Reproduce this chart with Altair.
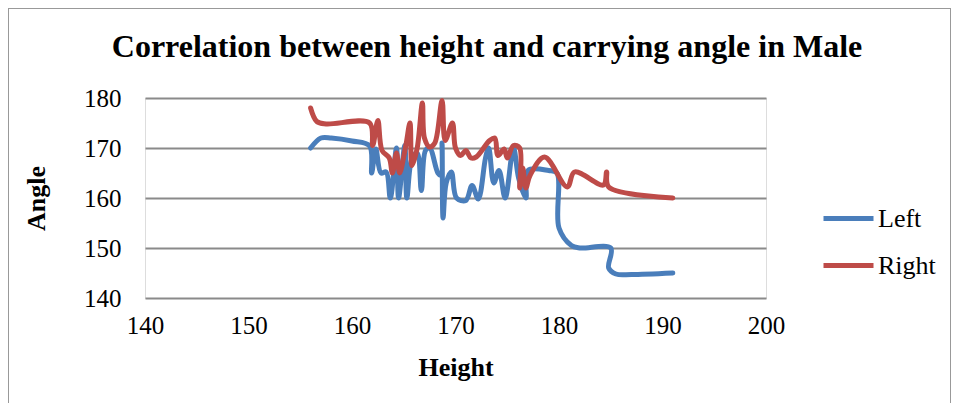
import altair as alt
import pandas as pd

# Left series (height, angle)
left_height = [156, 157, 158, 160, 161.7, 161.9, 162.3, 162.8, 163.3, 163.7, 164.3, 164.5,
               165.1, 165.3, 165.8, 166.3, 166.7, 167.1, 167.5, 168.3, 168.6, 168.7, 168.8,
               169.1, 169.6, 170.1, 171, 171.6, 172.2, 172.9, 173.2, 173.7, 174.2, 174.8,
               175.6, 176.1, 176.8, 177, 179, 179.8, 180, 181.2, 182, 185, 184.8, 185.5, 187, 191]
left_angle = [170, 172, 172, 171.4, 170.4, 165, 169.8, 165, 165.2, 160, 170, 160,
              170.5, 160, 168, 169, 161.5, 169.5, 170, 165, 164.5, 171, 156,
              163, 165.2, 160, 159.5, 162.5, 159.8, 168, 170, 163, 165.5, 160,
              170, 164, 160, 165.5, 165.5, 165, 154, 150.5, 150, 150, 146, 144.8, 144.7, 145]

# Right series (height, angle)
right_height = [156, 156.6, 157.5, 161.7, 162, 162.5, 162.9, 163.6, 163.9, 164.3, 164.6,
                165.2, 165.6, 165.8, 166.3, 166.8, 167, 167.5, 168, 168.7, 169, 169.7, 170,
                170.5, 171, 171.5, 172, 173.3, 173.8, 174.1, 174.7, 175, 175.6, 176.2, 176.2,
                176.5, 176.8, 177.2, 178.6, 180.8, 181.5, 184.3, 184.6, 184.8, 191]
right_angle = [178, 175.3, 174.8, 175, 170.5, 175.5, 169.5, 168, 165, 169, 165,
               170.5, 175, 166.5, 170, 179, 172, 170.2, 171, 179.5, 171.5, 175, 170,
               168.5, 169.5, 168, 168.2, 171.5, 172, 168.5, 169.8, 168, 170.5, 170, 162,
               166, 162, 164.5, 168.2, 162.2, 165.2, 162.6, 165.2, 162.2, 160]

x_ticks = [140, 150, 160, 170, 180, 190, 200]
y_ticks = [140, 150, 160, 170, 180]
series_names = ["Left", "Right"]
series_colors = ["#4A7EBB", "#BE4B48"]
chart_title = "Correlation between height and carrying angle in Male"

rows = []
for i, (h, a) in enumerate(zip(left_height, left_angle)):
    rows.append({"Series": "Left", "Height": h, "Angle": a, "idx": i})
for i, (h, a) in enumerate(zip(right_height, right_angle)):
    rows.append({"Series": "Right", "Height": h, "Angle": a, "idx": i})
df = pd.DataFrame(rows)

FONT = "Liberation Serif"

lines = alt.Chart(df).mark_line(
    interpolate="catmull-rom", strokeWidth=5, strokeCap="round", strokeJoin="round"
).encode(
    x=alt.X("Height:Q",
            scale=alt.Scale(domain=[140, 200], nice=False, zero=False),
            axis=alt.Axis(values=x_ticks, title="Height", grid=False, domain=False, ticks=False,
                          labelFlush=False,
                          labelFont=FONT, labelFontSize=25, labelColor="#000000", labelPadding=15,
                          titleFont=FONT, titleFontSize=26, titleFontWeight="bold",
                          titleColor="#000000", titlePadding=16)),
    y=alt.Y("Angle:Q",
            scale=alt.Scale(domain=[140, 180], nice=False, zero=False),
            axis=alt.Axis(values=y_ticks, title="Angle", grid=True, gridColor="#8a8a8a",
                          gridWidth=1.8, domain=False, ticks=False, labelFlush=False,
                          labelFont=FONT, labelFontSize=25, labelColor="#000000", labelPadding=24,
                          titleFont=FONT, titleFontSize=26, titleFontWeight="bold",
                          titleColor="#000000", titlePadding=34)),
    color=alt.Color("Series:N",
                    scale=alt.Scale(domain=series_names, range=series_colors),
                    legend=alt.Legend(title=None, orient="none", legendX=676, legendY=93,
                                      symbolType="stroke", symbolSize=2500, symbolStrokeWidth=5,
                                      labelFont=FONT, labelFontSize=26, labelColor="#000000",
                                      rowPadding=6, labelOffset=2)),
    order="idx:Q",
)

title_text = alt.Chart(pd.DataFrame({"t": [chart_title]})).mark_text(
    font=FONT, fontSize=32, fontWeight="bold", color="#000000", baseline="middle", align="center"
).encode(text="t:N", x=alt.value(342), y=alt.value(-51))

border = alt.Chart(df).mark_rect(fill=None, stroke="#999999", strokeWidth=1).encode(
    x=alt.value(-136.5), x2=alt.value(806), y=alt.value(-89.5), y2=alt.value(320)
)

chart = alt.layer(border, title_text, lines).properties(
    width=621, height=200,
    autosize=alt.AutoSizeParams(type="none"),
    padding={"left": 137, "top": 90, "right": 185, "bottom": 105},
).configure_view(stroke=None).configure(background="white")

chart.save("out.html", embed_options={"renderer": "svg", "actions": False})
